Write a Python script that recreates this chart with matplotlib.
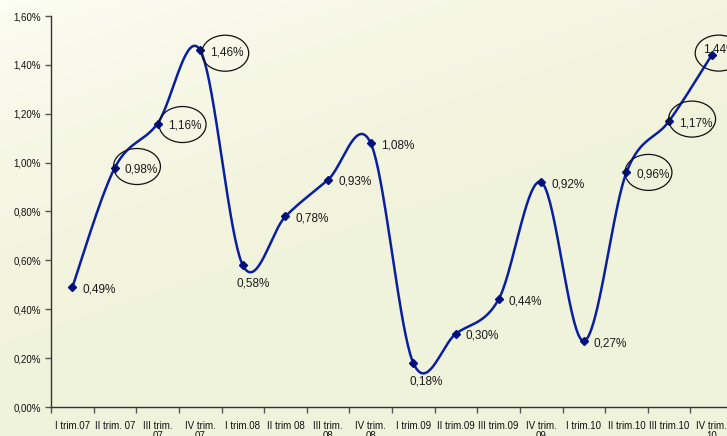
import numpy as np
import matplotlib
matplotlib.use("Agg")
import matplotlib.pyplot as plt
from matplotlib.patches import Ellipse
from matplotlib.transforms import IdentityTransform
from matplotlib.ticker import FuncFormatter, FixedLocator

plt.rcParams['font.family'] = ['Liberation Sans', 'DejaVu Sans']

categories = ["I trim.07", "II trim. 07", "III trim.\n07", "IV trim.\n07",
              "I trim.08", "II trim 08", "III trim.\n08", "IV trim.\n08",
              "I trim.09", "II trim.09", "III trim.09", "IV trim.\n09",
              "I trim.10", "II trim.10", "III trim.10", "IV trim.\n10"]
values = [0.49, 0.98, 1.16, 1.46, 0.58, 0.78, 0.93, 1.08,
          0.18, 0.30, 0.44, 0.92, 0.27, 0.96, 1.17, 1.44]
circled = [1, 2, 3, 13, 14, 15]

W, H, DPI = 727, 436, 100
fig = plt.figure(figsize=(W / DPI, H / DPI), dpi=DPI)

# background gradient
bg = fig.add_axes([0, 0, 1, 1], zorder=-10)
gy, gx = np.mgrid[0:1:200j, 0:1:200j]
t = np.clip((gy * 0.9 + gx * 0.5) * 1.4, 0, 1) ** 0.6
c0 = np.array([0.995, 0.997, 0.965])
c1 = np.array([0.945, 0.953, 0.862])
img = c0[None, None, :] * (1 - t[..., None]) + c1[None, None, :] * t[..., None]
bg.imshow(img, aspect='auto', extent=[0, 1, 0, 1], origin='upper')
bg.axis('off')

left, right, top, bottom = 51, 733, 16, 407
ax = fig.add_axes([left / W, 1 - bottom / H, (right - left) / W, (bottom - top) / H])
ax.patch.set_alpha(0)

n = len(values)
x = np.arange(n)
y = np.array(values)

# Excel-like smoothed line (cubic Bezier, Catmull-Rom control points)
P = np.column_stack([x, y]).astype(float)
Pext = np.vstack([P[0], P, P[-1]])
curve = []
tt = np.linspace(0, 1, 40)
for i in range(n - 1):
    p0, p1 = Pext[i + 1], Pext[i + 2]
    c1 = p0 + (Pext[i + 2] - Pext[i]) / 6
    c2 = p1 - (Pext[i + 3] - Pext[i + 1]) / 6
    seg = ((1 - tt) ** 3)[:, None] * p0 + (3 * (1 - tt) ** 2 * tt)[:, None] * c1 + \
          (3 * (1 - tt) * tt ** 2)[:, None] * c2 + (tt ** 3)[:, None] * p1
    curve.append(seg)
curve = np.vstack(curve)
ax.plot(curve[:, 0], curve[:, 1], color='#0a1ea0', lw=1.8, zorder=3)
ax.plot(x, y, linestyle='none', marker='D', ms=4.5, color='#00107a', zorder=4)

ax.set_xlim(-0.5, n - 0.5)
ax.set_ylim(0, 1.6)
ax.yaxis.set_major_locator(FixedLocator(np.arange(0, 1.61, 0.2)))
ax.yaxis.set_major_formatter(FuncFormatter(lambda v, p: f"{v:.2f}%".replace('.', ',')))
ax.set_xticks(x)
ax.set_xticklabels(categories, fontsize=7, linespacing=1.0)
ax.set_xticks(np.arange(-0.5, n, 1), minor=True)
ax.tick_params(axis='x', which='major', length=0, pad=10, colors='#111111')
ax.tick_params(axis='x', which='minor', length=4, width=1, color='#555555')
ax.tick_params(axis='y', length=4, width=1, color='#555555', labelsize=7, pad=3, colors='#111111')
ax.tick_params(axis='y', color='#555555')
for s in ['top', 'right']:
    ax.spines[s].set_visible(False)
for s in ['left', 'bottom']:
    ax.spines[s].set_color('#333333')
    ax.spines[s].set_linewidth(1.0)

# label offsets in pixels (dx, dy image-down), ha
offsets = {4: (10, 18, 'center'), 8: (13, 18, 'center'), 15: (-9, -6, 'left')}
ell_off = {1: (22, -1), 2: (25, 1), 3: (25, 3), 13: (22, 0), 14: (23, -2), 15: (7, -2)}
px = 72 / DPI
for i, v in enumerate(values):
    dx, dy, ha = offsets.get(i, (10, 2, 'left'))
    ax.annotate(f"{v:.2f}%".replace('.', ','), (i, v), xytext=(dx * px, -dy * px),
                textcoords='offset points', ha=ha, va='center', fontsize=8.5,
                color='#1a1a1a', zorder=5, annotation_clip=False)

fig.canvas.draw()
for i in circled:
    xd, yd = ax.transData.transform((i, values[i]))
    ex, ey = ell_off[i]
    e = Ellipse((xd + ex, yd - ey), 47, 36, transform=IdentityTransform(),
                fill=False, edgecolor='#111111', lw=0.9, zorder=6)
    fig.add_artist(e)

fig.savefig("out.png", dpi=DPI)
